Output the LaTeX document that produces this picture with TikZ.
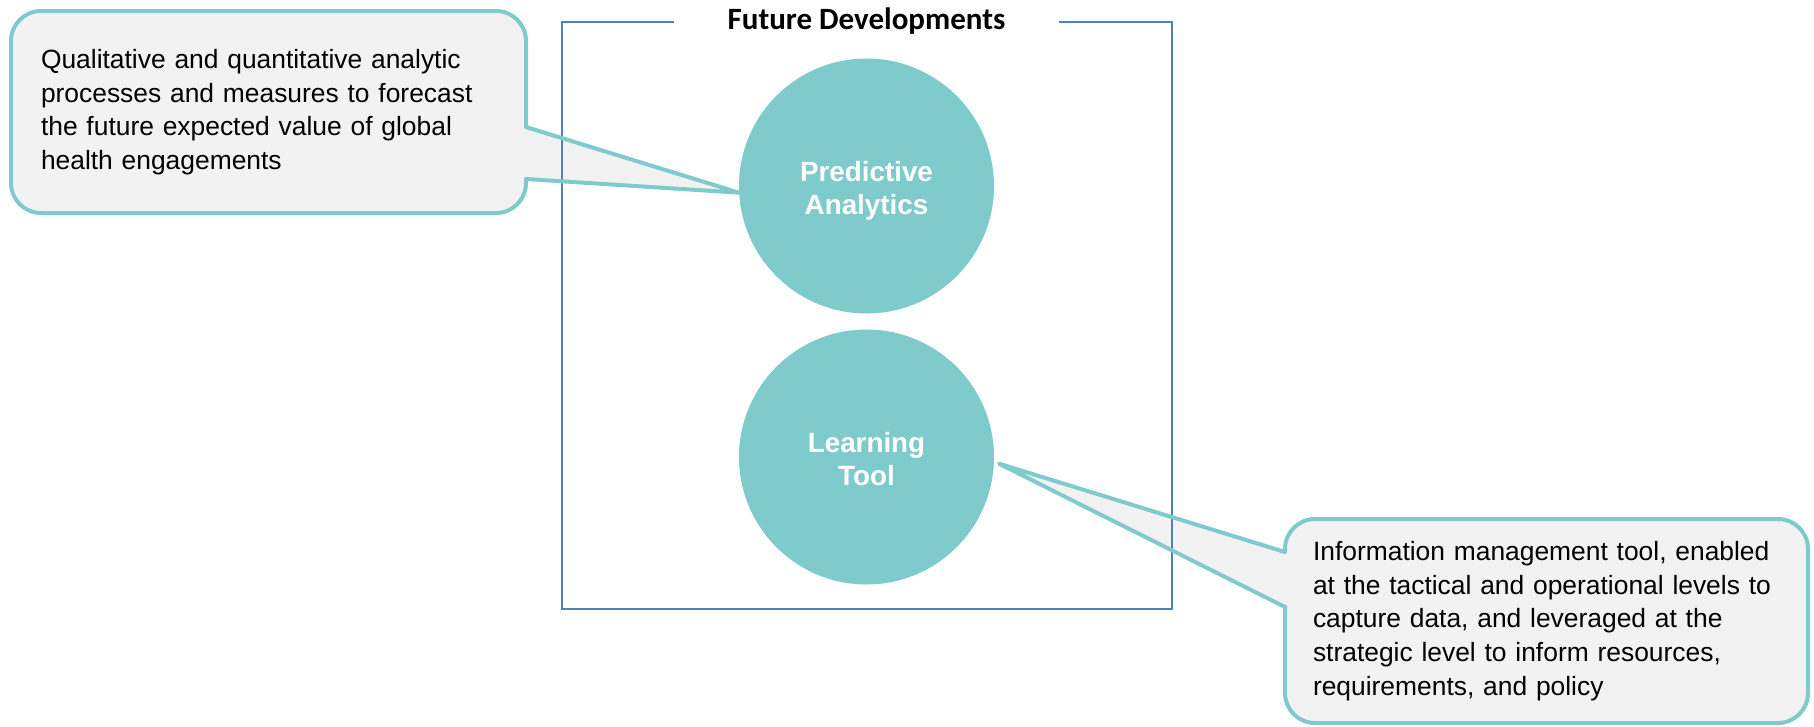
\documentclass[tikz,border=0pt]{standalone}
\usepackage{fontspec}
\setmainfont{Liberation Sans}
\newfontfamily\calibri{Carlito}
\definecolor{tealc}{RGB}{127,203,203}
\definecolor{boxgray}{RGB}{242,242,242}
\definecolor{frameblue}{RGB}{79,129,189}

\tikzset{
  bubble/.style={circle, fill=tealc, minimum size=255pt, inner sep=0pt, text=white, align=center, text height=63pt, text depth=6pt, font=\fontsize{27.8}{33}\selectfont\bfseries},
  callbox/.style={draw=tealc, line width=4pt, fill=boxgray, rounded corners=30pt, align=left, inner ysep=0pt, font=\fontsize{26.4}{33.6}\selectfont},
  callline/.style={draw=tealc, line width=4pt, line join=round, line cap=round},
}

\begin{document}
\begin{tikzpicture}[x=1pt,y=-1pt]
  \useasboundingbox (0,0) rectangle (1814,726);

  %callout boxes
  \node[callbox, text width=455pt, inner xsep=30pt, minimum height=202pt] (qual) at (268.5,112)
    {Qualitative and quantitative analytic\\processes and measures to forecast\\the future expected value of global\\health engagements};
  \node[callbox, text width=467pt, inner xsep=28pt, minimum height=204pt] (info) at (1546.5,621)
    {Information management tool, enabled\\at the tactical and operational levels to\\capture data, and leveraged at the\\strategic level to inform resources,\\requirements, and policy};

  %circles
  \node[bubble] (pred) at (866.5,186) {Predictive\\Analytics};
  \node[bubble] (learn) at (866.5,457) {Learning\\Tool};

  %pointer ends
  \coordinate (qa) at (526,127);
  \coordinate (qb) at (526,179);
  \coordinate (ia) at (1285,552);
  \coordinate (ib) at (1285,607);
  \coordinate (qtip) at (pred.183);
  \coordinate (itip) at ([xshift=5pt]learn.357);

  \fill[boxgray] (521,127) -- (qtip) -- (521,179) -- cycle;
  \fill[boxgray] (1290,552) -- (itip) -- (1290,607) -- cycle;

  %future box
  \node[anchor=base, font=\calibri\bfseries\fontsize{31}{36}\selectfont] (title) at (866.5,29) {Future Developments};
  \draw[frameblue, line width=2pt] (674,22) -- (562,22) -- (562,609) -- (1172,609) -- (1172,22) -- (1059,22);

  \draw[callline] (qa) -- (qtip) -- (qb);
  \draw[callline] (ia) -- (itip) -- (ib);
\end{tikzpicture}
\end{document}
